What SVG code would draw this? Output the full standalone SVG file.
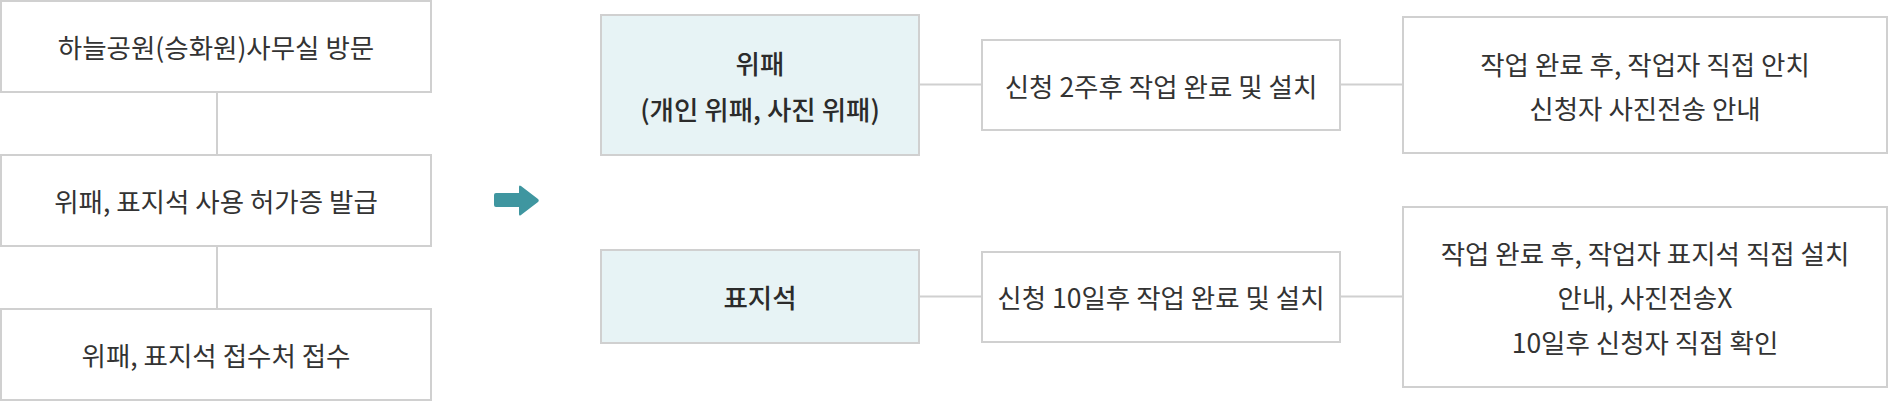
<svg xmlns="http://www.w3.org/2000/svg" width="1894" height="402" viewBox="0 0 1894 402">
<style>
.box{fill:#ffffff;stroke:#d0d0d0;stroke-width:2}
.cat{fill:#e7f3f5;stroke:#d0d0d0;stroke-width:2}
.conn{stroke:#d0d0d0;stroke-width:2;fill:none}
text{font-family:"Noto Sans CJK KR","Noto Sans",sans-serif;font-size:26.5px;fill:#333333;text-anchor:middle;dominant-baseline:central}
.title{font-weight:500;fill:#2b2b2b}
</style>
<rect x="0" y="0" width="1894" height="402" fill="#ffffff"/>
<g id="connectors">
<line class="conn" x1="217" y1="93" x2="217" y2="154"/>
<line class="conn" x1="217" y1="247" x2="217" y2="308"/>
<line class="conn" x1="920" y1="84.5" x2="981" y2="84.5"/>
<line class="conn" x1="1341" y1="84.5" x2="1402" y2="84.5"/>
<line class="conn" x1="920" y1="296.5" x2="981" y2="296.5"/>
<line class="conn" x1="1341" y1="296.5" x2="1402" y2="296.5"/>
</g>
<g id="step1">
<rect class="box" x="1" y="1" width="430" height="91"/>
<text x="216" y="46.5">하늘공원(승화원)사무실 방문</text>
</g>
<g id="step2">
<rect class="box" x="1" y="155" width="430" height="91"/>
<text x="216" y="200.5">위패, 표지석 사용 허가증 발급</text>
</g>
<g id="step3">
<rect class="box" x="1" y="309" width="430" height="91"/>
<text x="216" y="354.5">위패, 표지석 접수처 접수</text>
</g>
<g id="arrow">
<path d="M496,193 L519,193 L519,187 Q519,184.5 521,186 L538,199 Q539.5,200.5 538,202 L521,215 Q519,216.5 519,214 L519,207 L496,207 Q494,207 494,205 L494,195 Q494,193 496,193 Z" fill="#3f96a0"/>
</g>
<g id="wipae">
<rect class="cat" x="601" y="15" width="318" height="140"/>
<text class="title" x="760" y="62">위패</text>
<text class="title" x="760" y="108">(개인 위패, 사진 위패)</text>
</g>
<g id="pyojiseok">
<rect class="cat" x="601" y="250" width="318" height="93"/>
<text class="title" x="760" y="296.5">표지석</text>
</g>
<g id="wipae-schedule">
<rect class="box" x="982" y="40" width="358" height="90"/>
<text x="1161" y="85">신청 2주후 작업 완료 및 설치</text>
</g>
<g id="pyojiseok-schedule">
<rect class="box" x="982" y="252" width="358" height="90"/>
<text x="1161" y="296.5">신청 10일후 작업 완료 및 설치</text>
</g>
<g id="wipae-result">
<rect class="box" x="1403" y="17" width="484" height="136"/>
<text x="1645" y="63">작업 완료 후, 작업자 직접 안치</text>
<text x="1645" y="107">신청자 사진전송 안내</text>
</g>
<g id="pyojiseok-result">
<rect class="box" x="1403" y="207" width="484" height="180"/>
<text x="1645" y="252">작업 완료 후, 작업자 표지석 직접 설치</text>
<text x="1645" y="296.5">안내, 사진전송X</text>
<text x="1645" y="341">10일후 신청자 직접 확인</text>
</g>
</svg>
